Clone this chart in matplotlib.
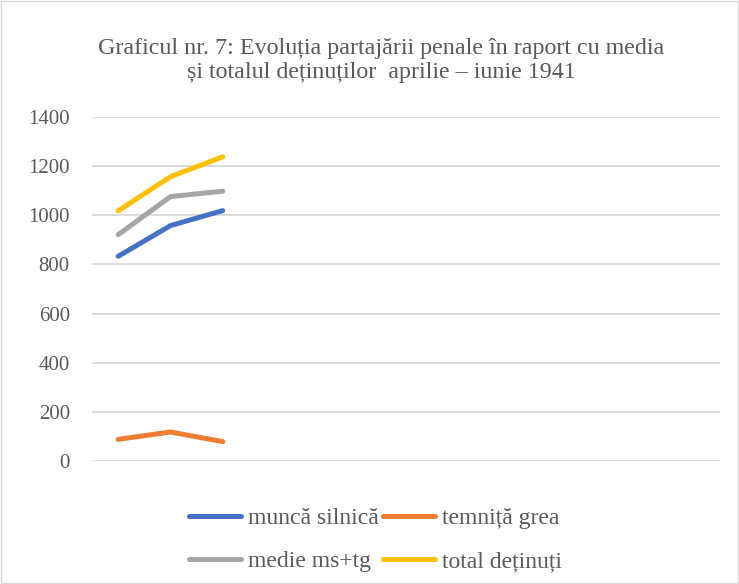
import matplotlib.pyplot as plt
from matplotlib.patches import Rectangle

plt.rcParams['font.family'] = ['Liberation Serif', 'DejaVu Serif']

# 12 category slots on the axis, only the first three carry data
n_slots = 12
months = ['aprilie', 'mai', 'iunie']
munca_silnica = [833, 958, 1019]
temnita_grea = [88, 118, 79]
medie_ms_tg = [921, 1076, 1098]
total_detinuti = [1018, 1157, 1238]
y_ticks = [0, 200, 400, 600, 800, 1000, 1200, 1400]

series = [
    ('muncă silnică', munca_silnica, '#4472C4'),
    ('temniță grea', temnita_grea, '#ED7D31'),
    ('medie ms+tg', medie_ms_tg, '#A5A5A5'),
    ('total deținuți', total_detinuti, '#FFC000'),
]

txt = '#595959'

fig = plt.figure(figsize=(7.39, 5.84), dpi=100)
ax = fig.add_axes([0.1245, 0.2106, 0.8495, 0.5891])

x = list(range(len(months)))
handles = []
for label, vals, col in series:
    h, = ax.plot(x, vals, color=col, lw=3.6, solid_capstyle='round',
                 solid_joinstyle='round', label=label)
    handles.append(h)

ax.set_xlim(-0.5, n_slots - 0.5)
ax.set_ylim(0, 1400)
ax.set_yticks(y_ticks)
ax.set_xticks([])
ax.tick_params(axis='y', length=0, pad=16, labelsize=15, labelcolor=txt)
ax.grid(axis='y', color='#d9d9d9', lw=1.3)
ax.set_axisbelow(True)
for s in ax.spines.values():
    s.set_visible(False)

fig.text(0.516, 0.897, 'Graficul nr. 7: Evoluția partajării penale în raport cu media\n'
         'și totalul deținuților  aprilie – iunie 1941',
         ha='center', va='center', fontsize=17.3, color=txt, linespacing=1.2)

# row-major order like Excel: matplotlib fills legend columns first
order = [0, 2, 1, 3]
leg = fig.legend([handles[i] for i in order], [series[i][0] for i in order],
                 loc='center', bbox_to_anchor=(0.508, 0.0755), ncol=2,
                 frameon=False, fontsize=17, handlelength=2.2,
                 handletextpad=0.3, columnspacing=0.15, labelspacing=0.9)
for t in leg.get_texts():
    t.set_color(txt)

fig.patches.append(Rectangle((0.001, 0.001), 0.997, 0.997, transform=fig.transFigure,
                             fill=False, edgecolor='#d9d9d9', lw=1.0))

fig.savefig('out.png', dpi=100)
